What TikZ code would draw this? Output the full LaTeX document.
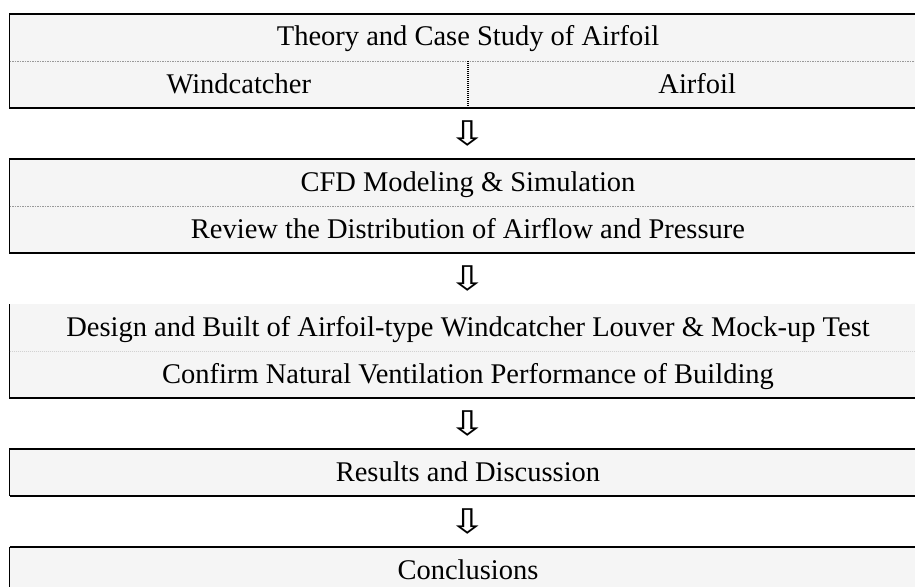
\documentclass[tikz,border=0pt]{standalone}
\usepackage{fontspec}
\setmainfont{Liberation Serif}
\newfontfamily\arrowfont{DejaVu Sans}
\usetikzlibrary{positioning}
\definecolor{panelgray}{HTML}{F5F5F5}
\definecolor{rulegray}{HTML}{9A9A9A}
\definecolor{lightrule}{HTML}{D2D2D2}
\newcommand{\downhint}{\scalebox{1.35}[1]{⇩}}

\begin{document}
\begin{tikzpicture}[x=1pt,y=-1pt,
        row/.style={
            rectangle, fill=panelgray, inner sep=0pt, outer sep=0pt,
            minimum width=917pt, minimum height=47pt, text height=21pt, text depth=4pt,
            font=\fontsize{28.5}{32}\selectfont
        },
        halfrow/.style={row, minimum width=458.5pt},
        gap/.style={
            rectangle, inner sep=0pt, outer sep=0pt, minimum height=51pt,
            font=\arrowfont\fontsize{34}{38}\selectfont
        },
        frame/.style={draw=black, line width=1.1pt},
        heavyframe/.style={draw=black, line width=1.8pt},
        split/.style={draw=rulegray, line width=0.6pt, dash pattern=on 1.5pt off 1pt},
        faintsplit/.style={draw=lightrule, line width=0.6pt, dash pattern=on 1pt off 1pt},
        colsplit/.style={draw=black, line width=1.6pt, dash pattern=on 1pt off 1pt},
    ]
        \useasboundingbox (0,0) rectangle (915,586);
        \clip (0,0) rectangle (915,586);

        \node (theory) [row, anchor=north west] at (9.5,14) {Theory and Case Study of Airfoil};
        \node (windcatcher) [halfrow, anchor=north west] at (theory.south west) {Windcatcher};
        \node (airfoil) [halfrow, right=0pt of windcatcher] {Airfoil};
        \node (arrowA) [gap, below=0pt of windcatcher.south east] {\downhint};

        \node (cfd) [row, below=0pt of arrowA] {CFD Modeling \& Simulation};
        \node (review) [row, below=0pt of cfd] {Review the Distribution of Airflow and Pressure};
        \node (arrowB) [gap, below=0pt of review] {\downhint};

        \node (design) [row, below=0pt of arrowB] {Design and Built of Airfoil-type Windcatcher Louver \& Mock-up Test};
        \node (confirm) [row, below=0pt of design] {Confirm Natural Ventilation Performance of Building};
        \node (arrowC) [gap, below=0pt of confirm] {\downhint};

        \node (results) [row, below=0pt of arrowC] {Results and Discussion};
        \node (arrowD) [gap, below=0pt of results] {\downhint};

        \node (conclusions) [row, below=0pt of arrowD] {Conclusions};

        % box borders
        \draw[frame] (theory.north east) -- (theory.north west) -- (windcatcher.south west) -- (airfoil.south east);
        \draw[split] (theory.south west) -- (theory.south east);
        \draw[colsplit] (windcatcher.north east) -- (windcatcher.south east);

        \draw[frame] (cfd.north east) -- (cfd.north west) -- (review.south west) -- (review.south east);
        \draw[split] (cfd.south west) -- (cfd.south east);

        \draw[frame] (design.north west) -- (confirm.south west) -- (confirm.south east);
        \draw[faintsplit] (design.south west) -- (design.south east);

        \draw[frame] (results.north east) -- (results.north west) -- (results.south west);
        \draw[heavyframe] (results.south west) -- (results.south east);

        \draw[heavyframe] (conclusions.north west) -- (conclusions.north east);
        \draw[frame] (conclusions.north west) -- (conclusions.south west);

    \end{tikzpicture}
\end{document}
